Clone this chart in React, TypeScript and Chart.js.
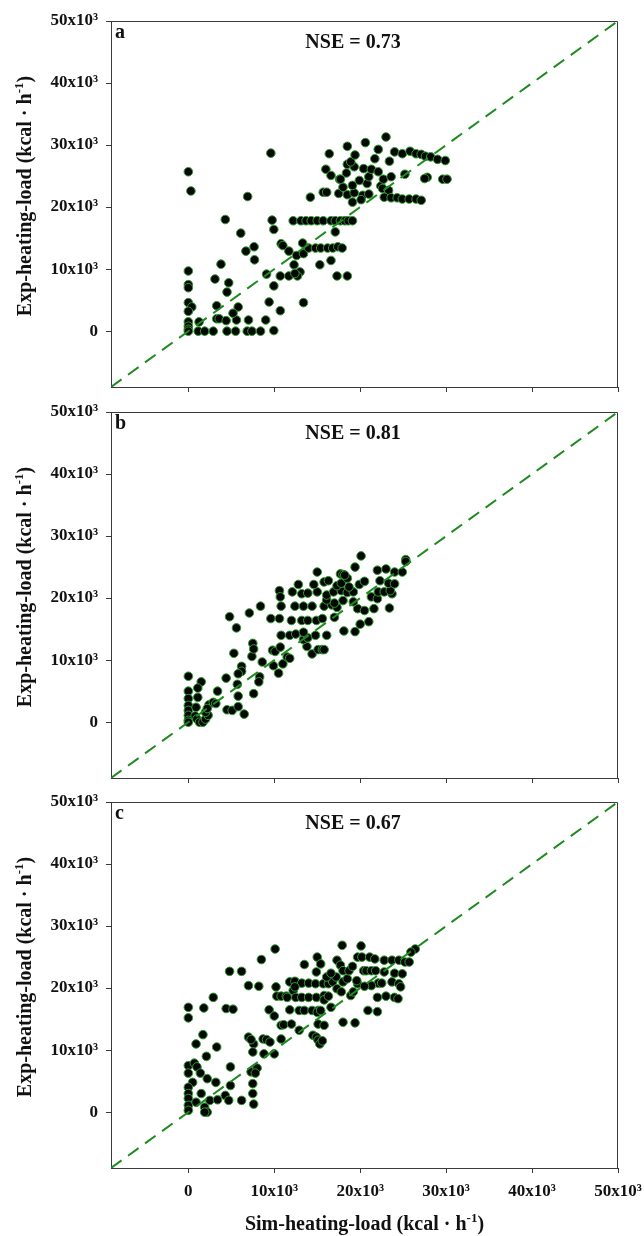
import React, { useEffect, useRef } from "react";
import { Chart, registerables } from "chart.js";

Chart.register(...registerables);

// ---------- data ----------
const AXIS_MIN = -9000;
const AXIS_MAX = 50000;
const tickValues = [0, 10000, 20000, 30000, 40000, 50000];
const tickLabels = ["0", "10x10³", "20x10³", "30x10³", "40x10³", "50x10³"];
const panelLetters = ["a", "b", "c"];
const nseLabels = ["NSE = 0.73", "NSE = 0.81", "NSE = 0.67"];
const xAxisTitle = ["Sim-heating-load (kcal · h", "-1", ")"];
const yAxisTitle = ["Exp-heating-load (kcal · h", "-1", ")"];

// [simulated, experimental] heating load (kcal·h-1)
const panelA: [number, number][] = [
  [0, 25700], [300, 22600], [0, 9700], [0, 7500], [0, 7000], [0, 4600], [400, 3900], [0, 3200], [0, 1500], [0, 800], [0, 300], [0, 0],
  [1150, 0], [1900, 0], [2900, 0], [4500, 0], [5500, 0], [6850, 0], [7400, 0], [8400, 0], [9950, 100],
  [1250, 1500], [3300, 2000], [3600, 2000], [4400, 1700], [5600, 1800], [7000, 1800], [9000, 1800], [3300, 4100], [5800, 3900], [5200, 2900],
  [10700, 3300], [9400, 4700], [13400, 4600], [3100, 8400], [3800, 10800], [4700, 7800], [4500, 6300], [9950, 7300], [9100, 9200],
  [4300, 18000], [6900, 21700], [9600, 28700], [9750, 17900], [9950, 16400], [6100, 15800], [10800, 14100], [11000, 13800], [7650, 13600],
  [6700, 12900], [11700, 12900], [7700, 11500], [12600, 12200], [13400, 12500], [12300, 10700], [15300, 10700], [16600, 11400], [13000, 9550],
  [10700, 8900], [11700, 8900], [12700, 8900], [12400, 9300], [17300, 8900], [18500, 8900], [17100, 16000], [14200, 21600], [15700, 22400], [16100, 22400],
  [12200, 17800], [13100, 17800], [13700, 17800], [14300, 17800], [15000, 17800], [15700, 17800], [16600, 17800], [17100, 17800], [17700, 17800],
  [18200, 17800], [18600, 17800], [19100, 17800],
  [13300, 14200], [14000, 13400], [14800, 13400], [15400, 13400], [16200, 13400], [16800, 13400], [17400, 13600], [17900, 13400],
  [16400, 28600], [18500, 29800], [16000, 26100], [16600, 25100], [17600, 24500], [18400, 25500], [17500, 22200], [18500, 22000], [19300, 22300],
  [20300, 21900], [21000, 22100], [19100, 20800], [20100, 21200], [18000, 23200], [19100, 23500], [20800, 23800], [22400, 23400], [22600, 23000],
  [23300, 22700], [17700, 24500], [19900, 24300], [21000, 24900], [22700, 24500], [23600, 24900], [25200, 25300], [27800, 24800], [27500, 24600],
  [29600, 24500], [30100, 24500], [18500, 26900], [19300, 26500], [20400, 26200], [21300, 26100], [22100, 25700], [18900, 27300], [21700, 27800],
  [23400, 27400], [19400, 28400], [20600, 30400], [22100, 29300], [23000, 31300], [24000, 28900], [24900, 28600], [25800, 29000], [26500, 28600],
  [27100, 28500], [27600, 28200], [28200, 28100], [29000, 27700], [29900, 27500],
  [22800, 21600], [23600, 21500], [24300, 21500], [24900, 21300], [25700, 21300], [26500, 21300], [27100, 21100],
];

const panelB: [number, number][] = [
  [0, 7400], [0, 5000], [0, 3800], [0, 2700], [0, 1900], [0, 1100], [0, 300], [0, 0],
  [800, 1000], [1000, 500], [1300, 0], [1700, 0], [2000, 500], [2300, 1100], [2400, 2800], [2000, 1600], [2200, 2200], [1500, 6500],
  [1100, 5500], [1100, 4000], [900, 2400], [2900, 3200], [3200, 3000], [3400, 5000], [4500, 2000], [5100, 1900], [5800, 2500], [6500, 1300],
  [5800, 4200], [7600, 4600],
  [5700, 6100], [4400, 7100], [8300, 7300], [8200, 6500], [6200, 9000], [6200, 8200], [5800, 7800], [10500, 7900], [9900, 9100], [11000, 9400],
  [8600, 9700], [7400, 10600], [11500, 10500], [11800, 10300], [5300, 11100], [9800, 11600], [10100, 11400], [10700, 12100], [7500, 12700],
  [7600, 11800], [13800, 12200], [14400, 11000], [15100, 11700], [15600, 11700], [15800, 11700], [13400, 13300], [13900, 13600],
  [10800, 14000], [11800, 14000], [12500, 14200], [13400, 14500], [14800, 14000], [16100, 14000], [18100, 14700], [19400, 14600],
  [5600, 15200], [20000, 15800], [21000, 16200],
  [9600, 16700], [10600, 16700], [12000, 16400], [13200, 16400], [13900, 16400], [14900, 16400], [15600, 16700], [17000, 16900],
  [4800, 17000], [7100, 17600],
  [8400, 18700], [10800, 18700], [12400, 18700], [13400, 18700], [14400, 18700], [15800, 18700], [16700, 18900], [17300, 18500],
  [19700, 18300], [20500, 18000], [21600, 18300], [23400, 18400], [19200, 19400], [18000, 19600], [16100, 19700], [17000, 19200],
  [10600, 21200], [10700, 20200], [12100, 21000], [13200, 20700], [13900, 20800], [15000, 21000], [16100, 20500], [16900, 21000],
  [17800, 21200], [18500, 20900], [19200, 21000], [21300, 20200], [22000, 19900], [23700, 20700], [22100, 21000], [22800, 21000], [23500, 21200],
  [12800, 22200], [14600, 22200], [15800, 22600], [16300, 22800], [17300, 22000], [17800, 22400], [18700, 21800], [19900, 22200], [20500, 22700],
  [22300, 22800], [23300, 22400], [24000, 22300], [18500, 23200], [17700, 23900], [18000, 23800], [18200, 23700], [15000, 24200], [22000, 24500],
  [23000, 24700], [24000, 24200], [24900, 24200], [19400, 25000], [20100, 26800], [25300, 26200], [25300, 25900],
];

const panelC: [number, number][] = [
  [10100, 26300], [17900, 26900], [20100, 26800], [26400, 26300], [25900, 25800], [8500, 24600], [4800, 22700], [6200, 22700], [2900, 18500],
  [1800, 16800], [4400, 16700], [5200, 16600], [0, 16900], [0, 15200], [1700, 12500], [900, 11000], [3300, 10500], [2100, 9000], [0, 7500],
  [0, 6300], [700, 7900], [1000, 7300], [1400, 6300], [4900, 7300], [500, 4800], [2200, 5400], [3200, 4800], [4900, 4300], [0, 4000],
  [0, 3000], [0, 2200], [0, 1100], [0, 300], [1500, 3000], [900, 1600], [1900, 800], [2200, 0], [1900, 0], [2500, 1900], [3400, 2000],
  [4300, 2700], [4700, 1900], [6200, 1900],
  [7000, 12100], [7600, 11000], [7300, 11700], [7000, 20400], [8200, 20300], [7300, 6500], [7500, 4600], [8000, 7100], [7800, 6300],
  [7500, 3000], [7600, 1300], [7500, 9700], [8700, 11800], [9100, 11700], [9500, 11300], [8800, 9400], [10000, 9400], [9400, 16500],
  [10000, 15500], [10200, 20200], [10300, 18700], [10800, 18700], [11400, 18700], [10800, 11800], [10800, 14000], [11100, 14100], [12000, 14200],
  [11800, 21000], [12400, 21100], [13200, 20800], [14000, 20800], [14800, 20700], [15700, 20700], [12200, 19600], [12400, 20200], [11500, 18500],
  [12500, 18500], [13200, 18500], [14000, 18500], [14900, 18500], [15800, 18800], [11800, 16500], [12900, 16400], [13500, 16400], [14400, 16400],
  [15100, 16400], [12900, 13200], [13500, 23800], [14900, 22600], [15000, 25000], [15400, 23900], [14500, 12400], [14900, 12100], [15100, 11600],
  [15300, 11000], [15600, 11500], [15100, 14200], [15800, 14000], [15000, 16100], [15400, 16400], [15800, 18100], [16300, 18700], [16600, 16900],
  [16300, 20700], [16800, 21000], [17200, 21800], [16100, 21800], [16600, 22400], [17300, 24500], [17700, 23700], [18000, 22800], [17300, 19900],
  [17800, 19400], [18000, 21000], [18500, 21500], [18000, 14500], [19400, 14400], [18900, 18800], [19200, 19400], [19700, 20700], [19600, 21200],
  [18700, 22800], [19100, 23500], [19700, 25000], [20200, 25000], [20400, 22800], [20700, 22800], [21100, 25000], [21700, 24700], [22800, 24500],
  [23700, 24500], [24500, 24500], [21300, 22800], [21800, 22800], [22800, 22600], [22100, 20800], [22500, 20800], [23700, 21000], [21300, 20400],
  [20500, 20300], [22000, 18500], [23000, 18700], [24000, 18500], [24400, 18300], [20900, 16400], [22000, 16200], [24000, 22400], [24900, 22300],
  [24500, 20700], [24700, 20200], [25200, 24200], [25700, 24200],
];

const panelData = [panelA, panelB, panelC];

// ---------- styling ----------
const FONT = "'Liberation Serif', 'Times New Roman', Times, serif";
const AXIS_COLOR = "#3a3a3a";
const LINE_GREEN = "#1f8a1f";
const DOT_EDGE = "#2f9a2f";

function drawRich(ctx: CanvasRenderingContext2D, segs: string[], cx: number, by: number) {
  const main = `bold 20px ${FONT}`;
  const sup = `bold 13px ${FONT}`;
  const widths = segs.map((s, i) => {
    ctx.font = i === 1 ? sup : main;
    return ctx.measureText(s).width;
  });
  const total = widths.reduce((a, b) => a + b, 0);
  let x = cx - total / 2;
  ctx.textAlign = "left";
  ctx.textBaseline = "alphabetic";
  segs.forEach((s, i) => {
    ctx.font = i === 1 ? sup : main;
    ctx.fillText(s, x, i === 1 ? by - 8 : by);
    x += widths[i];
  });
}

function makeDecor(idx: number, showXTitle: boolean) {
  return {
    id: "decor" + idx,
    afterDraw(chart: any) {
      const { ctx, chartArea } = chart;
      const { left, right, top, bottom } = chartArea;
      ctx.save();
      // top and right frame
      ctx.strokeStyle = AXIS_COLOR;
      ctx.lineWidth = 1;
      ctx.beginPath();
      const t = Math.round(top) + 0.5;
      const r = Math.round(right) - 0.5;
      ctx.moveTo(Math.round(left), t);
      ctx.lineTo(r, t);
      ctx.lineTo(r, Math.round(bottom));
      ctx.stroke();

      ctx.fillStyle = "#111";
      ctx.textAlign = "left";
      ctx.textBaseline = "alphabetic";
      ctx.font = `bold 20px ${FONT}`;
      ctx.fillText(panelLetters[idx], left + 4, top + 17);
      ctx.textAlign = "center";
      ctx.fillText(nseLabels[idx], left + 242, top + 27);

      // y title (rotated)
      ctx.save();
      ctx.translate(31, (top + bottom) / 2 - 8);
      ctx.rotate(-Math.PI / 2);
      drawRich(ctx, yAxisTitle, 0, 0);
      ctx.restore();

      if (showXTitle) {
        drawRich(ctx, xAxisTitle, (left + right) / 2, bottom + 62);
      }
      ctx.restore();
    },
  };
}

function Panel({ idx, top, height, xAxisHeight, showX }: { idx: number; top: number; height: number; xAxisHeight: number; showX: boolean }) {
  const ref = useRef<HTMLCanvasElement>(null);
  useEffect(() => {
    const canvas = ref.current;
    if (!canvas) return;
    const tickFont = { family: FONT, size: 17, weight: "bold" as const };
    const labelFor = (v: any) => {
      const i = tickValues.indexOf(Number(v));
      return i >= 0 ? tickLabels[i] : "";
    };
    const chart = new Chart(canvas, {
      type: "scatter",
      data: {
        datasets: [
          {
            type: "line",
            data: [
              { x: AXIS_MIN, y: AXIS_MIN },
              { x: AXIS_MAX, y: AXIS_MAX },
            ],
            borderColor: LINE_GREEN,
            borderWidth: 2,
            borderDash: [13, 8],
            pointRadius: 0,
            fill: false,
            order: 0,
          } as any,
          {
            type: "scatter",
            data: panelData[idx].map(([x, y]) => ({ x, y })),
            backgroundColor: "#050505",
            borderColor: DOT_EDGE,
            borderWidth: 1,
            pointRadius: 4.3,
            order: 1,
          } as any,
        ],
      },
      options: {
        responsive: false,
        animation: false,
        devicePixelRatio: 1,
        layout: { padding: { top: 21, right: 26, left: 0, bottom: 0 } },
        plugins: {
          legend: { display: false },
          tooltip: { enabled: false },
          title: { display: false },
        },
        scales: {
          x: {
            type: "linear",
            position: "bottom",
            min: AXIS_MIN,
            max: AXIS_MAX,
            afterBuildTicks: (s: any) => {
              s.ticks = tickValues.map((v) => ({ value: v }));
            },
            afterFit: (s: any) => {
              s.height = xAxisHeight;
              s.paddingLeft = 0;
              s.paddingRight = 0;
            },
            grid: { drawOnChartArea: false, drawTicks: true, tickLength: 5, color: AXIS_COLOR, lineWidth: 1 },
            border: { display: true, color: AXIS_COLOR, width: 1 },
            ticks: {
              display: showX,
              autoSkip: false,
              maxRotation: 0,
              padding: 8,
              color: "#111",
              font: tickFont,
              callback: labelFor,
            },
          },
          y: {
            type: "linear",
            min: AXIS_MIN,
            max: AXIS_MAX,
            afterBuildTicks: (s: any) => {
              s.ticks = tickValues.map((v) => ({ value: v }));
            },
            afterFit: (s: any) => {
              s.width = 111;
              s.paddingTop = 0;
              s.paddingBottom = 0;
            },
            grid: { drawOnChartArea: false, drawTicks: true, tickLength: 5, color: AXIS_COLOR, lineWidth: 1 },
            border: { display: true, color: AXIS_COLOR, width: 1 },
            ticks: {
              autoSkip: false,
              padding: 8,
              color: "#111",
              font: tickFont,
              callback: labelFor,
            },
          },
        },
      } as any,
      plugins: [makeDecor(idx, showX)],
    });
    return () => chart.destroy();
  }, []);
  return (
    <canvas
      ref={ref}
      width={644}
      height={height}
      style={{ position: "absolute", left: 0, top, width: 644, height, display: "block" }}
    />
  );
}

export default function App() {
  return (
    <div style={{ position: "absolute", left: 0, top: 0, width: 644, height: 1236, background: "#fff", overflow: "hidden" }}>
      <Panel idx={0} top={0} height={400} xAxisHeight={13} showX={false} />
      <Panel idx={1} top={391} height={400} xAxisHeight={13} showX={false} />
      <Panel idx={2} top={781} height={455} xAxisHeight={68} showX={true} />
    </div>
  );
}
